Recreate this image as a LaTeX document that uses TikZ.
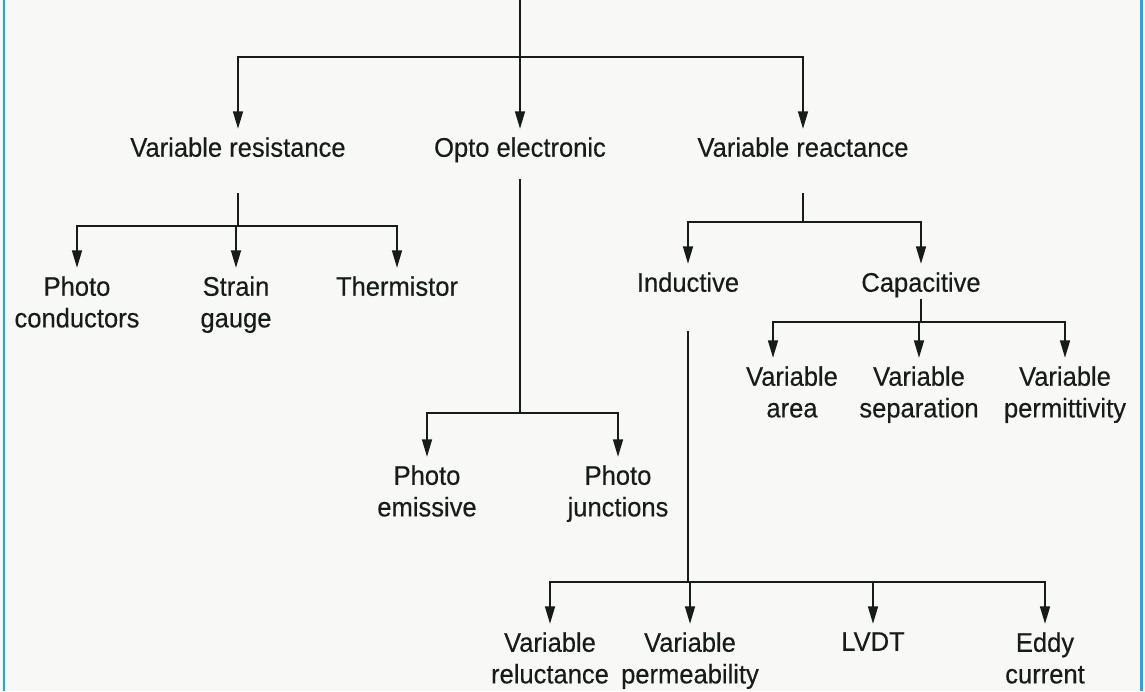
\documentclass[tikz,border=0pt]{standalone}
\usepackage{fontspec}
\setmainfont{Liberation Sans}[FakeStretch=0.95, FakeBold=0.3]
\usepackage{xcolor}
\usepackage{tikz}
\usetikzlibrary{arrows.meta}
\definecolor{ink}{RGB}{22,28,24}
\definecolor{paper}{RGB}{248,248,246}
\definecolor{edge}{RGB}{20,170,235}

\begin{document}
\begin{tikzpicture}[x=0.02cm, y=-0.02cm,
    st/.style={font=\fontsize{15.3}{18}\selectfont, text=ink, align=center, inner xsep=0pt, inner ysep=4.5pt, anchor=north},
    ln/.style={draw=ink, line width=1.35pt},
    arr/.style={ln, -{Triangle[length=10pt,width=5.5pt]}}
  ]
    \fill[paper] (0,0) rectangle (1145,691);
    \useasboundingbox (0,0) rectangle (1145,691);
    \draw[edge, line width=1.7pt] (4,0) -- (4,691);
    \draw[edge, line width=1.7pt] (1141,0) -- (1141,691);

    % first level
    \node[st] (vres) at (238,129) {Variable resistance};
    \node[st] (opto) at (520,129) {Opto electronic};
    \node[st] (vrea) at (803,129) {Variable reactance};

    % leaves
    \node[st] (pcon) at (77,268) {Photo\\conductors};
    \node[st] (sg) at (236,268) {Strain\\gauge};
    \node[st] (th) at (397,268) {Thermistor};
    \node[st] (pem) at (427,457) {Photo\\emissive};
    \node[st] (pjn) at (618,457) {Photo\\junctions};
    \node[st] (ind) at (688,264) {Inductive};
    \node[st] (cap) at (921,264) {Capacitive};
    \node[st] (va) at (792,358) {Variable\\area};
    \node[st] (vs) at (919,358) {Variable\\separation};
    \node[st] (vp) at (1065,358) {Variable\\permittivity};
    \node[st] (vrel) at (550,624) {Variable\\reluctance};
    \node[st] (vper) at (690,624) {Variable\\permeability};
    \node[st] (lvdt) at (873,624) {LVDT};
    \node[st] (eddy) at (1045,624) {Eddy\\current};

    % branch points
    \coordinate (top) at (520,0);
    \coordinate (j0) at (520,57);
    \coordinate (vres-j) at (238,226);
    \coordinate (opto-j) at (520,413);
    \coordinate (vrea-j) at (803,222);
    \coordinate (cap-j) at (921,322);
    \coordinate (ind-j) at (688,582);

    \draw[ln] (top) -- (j0);
    \draw[arr] (j0) -| (vres);
    \draw[arr] (j0) -| (opto);
    \draw[arr] (j0) -| (vrea);

    \draw[ln, shorten <=16pt] (vres) -- (vres-j);
    \draw[arr] (vres-j) -| (pcon);
    \draw[arr] (vres-j) -| (sg);
    \draw[arr] (vres-j) -| (th);

    \draw[ln, shorten <=5pt] (opto) -- (opto-j);
    \draw[arr] (opto-j) -| (pem);
    \draw[arr] (opto-j) -| (pjn);

    \draw[ln, shorten <=16pt] (vrea) -- (vrea-j);
    \draw[arr] (vrea-j) -| (ind);
    \draw[arr] (vrea-j) -| (cap);

    \draw[ln, shorten <=-4pt] (cap) -- (cap-j);
    \draw[arr] (cap-j) -| ([xshift=-0.38cm]va.north);
    \draw[arr] (cap-j) -| (vs);
    \draw[arr] (cap-j) -| (vp);

    \draw[ln, shorten <=17.5pt] (ind) -- (ind-j);
    \draw[arr] (ind-j) -| (vrel);
    \draw[arr] (ind-j) -| (vper);
    \draw[arr] (ind-j) -| (lvdt);
    \draw[arr] (ind-j) -| (eddy);
  \end{tikzpicture}
\end{document}
